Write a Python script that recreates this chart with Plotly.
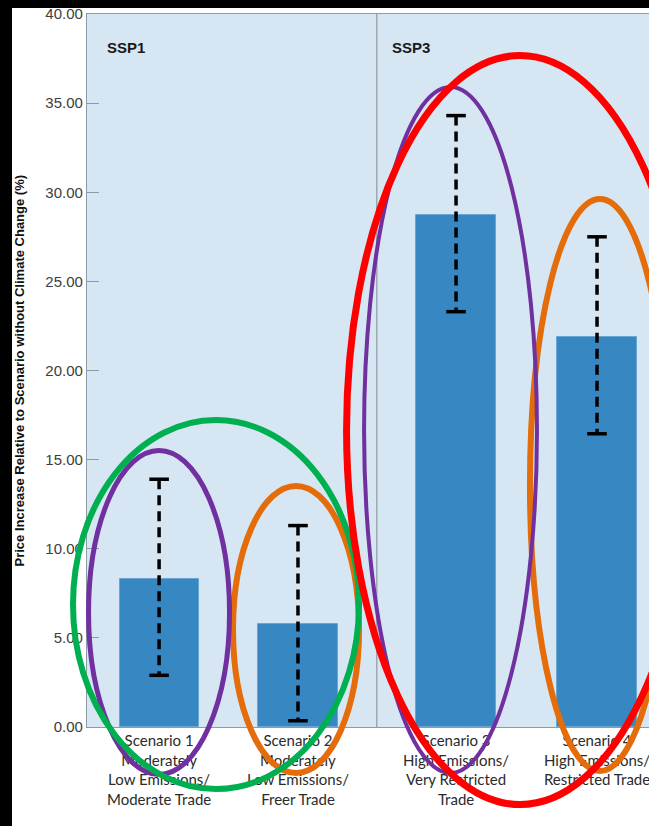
import plotly.graph_objects as go

# ---- data ----
scenarios = [
    "Scenario 1<br>Moderately<br>Low Emissions/<br>Moderate Trade",
    "Scenario 2<br>Moderately<br>Low Emissions/<br>Freer Trade",
    "Scenario 3<br>High Emissions/<br>Very Restricted<br>Trade",
    "Scenario 4<br>High Emissions/<br>Restricted Trade",
]
panels = ["SSP1", "SSP3"]
price_increase = [8.3, 5.8, 28.7, 21.9]
range_low = [2.9, 0.35, 23.3, 16.45]
range_high = [13.9, 11.3, 34.3, 27.5]
y_ticks = [0, 5, 10, 15, 20, 25, 30, 35, 40]

# ---- layout helpers ----
W, H = 649, 826
ML, MR, MT, MB = 87, 0, 14, 99
pw, ph = W - ML - MR, H - MT - MB
XMAX = pw / 140.0
YMAX = 40.0
xpos = [0.515, 1.507, 2.636, 3.643]
divider_x = 2.07
bar_w = 0.565

BAR = "#3788c2"
BG = "#d6e7f3"
AX = "#8e9aa4"

fig = go.Figure()
fig.add_trace(go.Bar(
    x=xpos, y=price_increase, width=bar_w,
    marker=dict(color=BAR, line=dict(color="#6aa6d2", width=1)),
    showlegend=False, hoverinfo="skip",
))
for xi, lo, hi in zip(xpos, range_low, range_high):
    fig.add_trace(go.Scatter(
        x=[xi, xi], y=[hi, lo], mode="lines+markers",
        line=dict(color="black", width=3.5, dash="10px,6px"),
        marker=dict(symbol="line-ew-open", size=14,
                    line=dict(color="black", width=3.5)),
        showlegend=False, hoverinfo="skip",
    ))

def px_(x):
    return x / XMAX

def py_(y):
    return y / YMAX

shapes = []
# panel divider
shapes.append(dict(type="line", xref="x", yref="y", x0=divider_x, x1=divider_x,
                   y0=0, y1=YMAX, line=dict(color=AX, width=1.2), layer="above"))

# highlight ellipses (data-unit bounding boxes)
ellipses = [
    ((1.043, 1.943, -2.58, 13.52), "#e46c0a", 6),
    ((3.164, 4.164, -2.47, 29.62), "#e46c0a", 6),
    ((0.011, 1.018, -2.66, 15.51), "#7030a0", 5),
    ((1.979, 3.214, -2.58, 35.9), "#7030a0", 4),
    ((-0.10, 1.943, -3.48, 17.22), "#00b050", 6),
    ((1.854, 4.332, -4.35, 37.67), "#ff0000", 7),
]
for (x0, x1, y0, y1), col, w in ellipses:
    shapes.append(dict(type="circle", xref="paper", yref="paper",
                       x0=px_(x0), x1=px_(x1), y0=py_(y0), y1=py_(y1),
                       line=dict(color=col, width=w), layer="above"))

# black frame strips of the screenshot
shapes.append(dict(type="rect", xref="paper", yref="paper",
                   x0=-ML / pw, x1=(12 - ML) / pw, y0=-MB / ph, y1=1 + MT / ph,
                   fillcolor="black", line=dict(width=0), layer="above"))
shapes.append(dict(type="rect", xref="paper", yref="paper",
                   x0=-ML / pw, x1=1.0, y0=1 + (MT - 8) / ph, y1=1 + MT / ph,
                   fillcolor="black", line=dict(width=0), layer="above"))

annotations = [
    dict(text="<b>SSP1</b>", xref="x", yref="y", x=0.13, y=38.1, xanchor="left",
         yanchor="middle", showarrow=False,
         font=dict(family="Liberation Sans, Arial", size=15, color="#1a1a1a")),
    dict(text="<b>SSP3</b>", xref="x", yref="y", x=2.165, y=38.1, xanchor="left",
         yanchor="middle", showarrow=False,
         font=dict(family="Liberation Sans, Arial", size=15, color="#1a1a1a")),
    dict(text="<b>Price Increase Relative to Scenario without Climate Change (%)</b>",
         xref="paper", yref="paper", x=(19 - ML) / pw, y=0.5, textangle=-90,
         xanchor="center", yanchor="middle", showarrow=False,
         font=dict(family="Liberation Sans, Arial", size=13, color="#111111")),
]

fig.update_layout(
    width=W, height=H,
    margin=dict(l=ML, r=MR, t=MT, b=MB, pad=0),
    paper_bgcolor="white", plot_bgcolor=BG,
    shapes=shapes, annotations=annotations,
    bargap=0,
    xaxis=dict(range=[0, XMAX], tickvals=xpos, ticktext=scenarios,
               showgrid=False, zeroline=False, ticks="",
               showline=True, linecolor=AX, linewidth=1.2, mirror=True,
               ticklabeloverflow="allow",
               tickfont=dict(family="Lato, Open Sans", size=15, color="#2b2b2b"),
               tickangle=0),
    yaxis=dict(range=[0, YMAX], tickvals=y_ticks,
               ticktext=[f"{v:.2f}" for v in y_ticks],
               showgrid=False, zeroline=False,
               ticks="inside", ticklen=12, tickcolor=AX, tickwidth=1.2,
               showline=True, linecolor=AX, linewidth=1.2,
               tickfont=dict(family="Liberation Sans, Arial", size=15, color="#3d3d3d")),
)

fig.write_html(
    "out.html",
    config={"displayModeBar": False},
    post_script="document.body.style.margin='0';document.body.style.overflow='hidden';",
)
